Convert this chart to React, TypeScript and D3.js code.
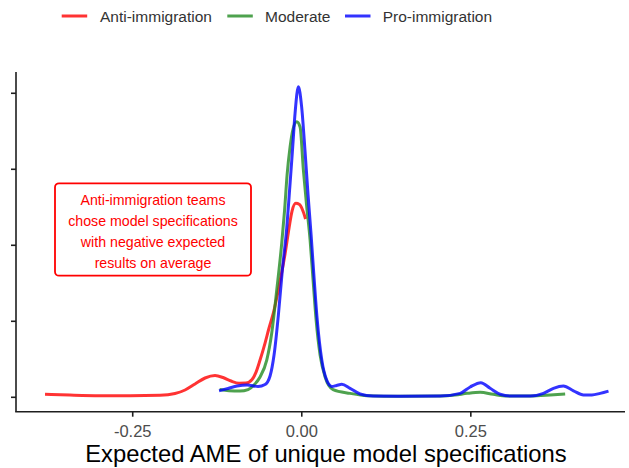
import React from "react";
import * as d3 from "d3";

type Pt = [number, number];

const seriesNames = ["Anti-immigration", "Moderate", "Pro-immigration"];
const seriesColors = ["#ff0000", "#228b22", "#0000ff"];

// Density curves: [Expected AME, density]
const antiDensity: Pt[] = [
  [-0.3797, 0.2], [-0.3428, 0.15], [-0.2984, 0.11], [-0.254, 0.105], [-0.2096, 0.13],
  [-0.1874, 0.25], [-0.1726, 0.48], [-0.1578, 0.875], [-0.143, 1.27], [-0.1283, 1.43],
  [-0.1164, 1.3], [-0.1046, 1.07], [-0.0928, 0.93], [-0.0824, 0.94], [-0.0735, 1.17],
  [-0.0676, 1.66], [-0.0617, 2.45], [-0.0543, 3.57], [-0.0484, 4.56], [-0.042, 5.55],
  [-0.0321, 7.65], [-0.0247, 9.43], [-0.0188, 11.14], [-0.0143, 12.26], [-0.0089, 12.76],
  [-0.0033, 12.68], [0.0012, 12.32], [0.0056, 11.73],
];

const moderateDensity: Pt[] = [
  [-0.1216, 0.51], [-0.1075, 0.43], [-0.0913, 0.41], [-0.0794, 0.51], [-0.0706, 0.81],
  [-0.0617, 1.34], [-0.0518, 2.45], [-0.0444, 4.23], [-0.037, 7.06], [-0.0296, 10.15],
  [-0.0254, 12.32], [-0.0217, 14.63], [-0.0173, 16.47], [-0.0129, 17.65], [-0.0074, 18.13],
  [-0.0025, 17.78], [0.0024, 14.95], [0.0071, 12.65], [0.0123, 10.35], [0.0167, 7.72],
  [0.0212, 5.09], [0.0271, 2.78], [0.0345, 1.34], [0.0463, 0.51], [0.0714, 0.26],
  [0.0966, 0.105], [0.1454, 0.066], [0.2046, 0.085], [0.2268, 0.15], [0.2445, 0.26],
  [0.2638, 0.33], [0.283, 0.2], [0.3037, 0.085], [0.3377, 0.085], [0.3673, 0.15],
  [0.3895, 0.22],
];

const proDensity: Pt[] = [
  [-0.1223, 0.43], [-0.109, 0.58], [-0.0957, 0.74], [-0.0809, 0.81], [-0.0646, 0.71],
  [-0.0543, 0.84], [-0.0469, 1.4], [-0.041, 2.78], [-0.0346, 5.41], [-0.0287, 8.38],
  [-0.0222, 11.14], [-0.018, 13.64], [-0.0139, 16.14], [-0.0099, 18.7], [-0.005, 20.43],
  [-0.0003, 19.16], [0.0049, 16.14], [0.0093, 13.31], [0.0138, 10.68], [0.0182, 7.85],
  [0.0226, 5.22], [0.0296, 2.45], [0.037, 1.11], [0.0444, 0.71], [0.0515, 0.78],
  [0.0592, 0.86], [0.0714, 0.59], [0.0862, 0.22], [0.1055, 0.085], [0.1454, 0.07],
  [0.2046, 0.085], [0.2342, 0.26], [0.249, 0.68], [0.2648, 0.96], [0.2786, 0.59],
  [0.2933, 0.2], [0.3081, 0.085], [0.3377, 0.085], [0.3574, 0.26], [0.3722, 0.59],
  [0.387, 0.74], [0.4018, 0.43], [0.4166, 0.15], [0.429, 0.15], [0.4413, 0.26],
  [0.4536, 0.41],
];

const xTicks = [-0.25, 0, 0.25];
const xTickLabels = ["-0.25", "0.00", "0.25"];
const yTicks = [0, 5, 10, 15, 20];
const xTitle = "Expected AME of unique model specifications";
const noteLines = [
  "Anti-immigration teams",
  "chose model specifications",
  "with negative expected",
  "results on average",
];

const W = 629;
const H = 468;
const FONT = "'Liberation Sans', Arial, Helvetica, sans-serif";

export default function App() {
  const x = d3.scaleLinear().domain([-0.4226, 0.478]).range([16, 625]);
  const y = d3.scaleLinear().domain([-0.947, 21.4]).range([411.7, 72]);
  const line = d3
    .line<Pt>()
    .x((d) => x(d[0]))
    .y((d) => y(d[1]))
    .curve(d3.curveMonotoneX);

  const all = [antiDensity, moderateDensity, proDensity];
  const axisColor = "#1e1e1e";
  const panelLeft = x.range()[0];
  const panelRight = x.range()[1];
  const panelBottom = y.range()[0];
  const panelTop = y.range()[1];

  const legendLineX = [61.7, 227.3, 345];
  const legendTextX = [100, 265, 382.7];

  return (
    <svg
      width={W}
      height={H}
      style={{ position: "absolute", left: 0, top: 0, background: "#fff" }}
      fontFamily={FONT}
    >
      <rect x={0} y={0} width={W} height={H} fill="#fff" />
      {/* Legend */}
      {seriesNames.map((n, i) => (
        <g key={n}>
          <line
            x1={legendLineX[i]}
            x2={legendLineX[i] + 25.5}
            y1={16}
            y2={16}
            stroke={seriesColors[i]}
            strokeOpacity={0.8}
            strokeWidth={3}
          />
          <text x={legendTextX[i]} y={21.5} fontSize={15.5} fill="#333">
            {n}
          </text>
        </g>
      ))}

      {/* Curves */}
      {all.map((d, i) => (
        <path
          key={i}
          d={line(d) || ""}
          fill="none"
          stroke={seriesColors[i]}
          strokeOpacity={0.8}
          strokeWidth={3}
          strokeLinejoin="round"
          strokeLinecap="butt"
        />
      ))}

      {/* Annotation */}
      <rect
        x={55}
        y={183.3}
        width={196}
        height={92.4}
        rx={4}
        fill="#fff"
        stroke="#ff0000"
        strokeWidth={1.8}
      />
      {noteLines.map((t, i) => (
        <text
          key={t}
          x={153}
          y={205 + i * 21.1}
          textAnchor="middle"
          fontSize={14.2}
          fill="#ff0000"
        >
          {t}
        </text>
      ))}

      {/* Axes */}
      <line x1={panelLeft} x2={panelLeft} y1={panelTop} y2={panelBottom} stroke={axisColor} strokeWidth={1.6} />
      <line x1={panelLeft - 0.8} x2={panelRight} y1={panelBottom} y2={panelBottom} stroke={axisColor} strokeWidth={1.6} />
      {yTicks.map((t) => (
        <line key={t} x1={panelLeft - 5} x2={panelLeft} y1={y(t)} y2={y(t)} stroke={axisColor} strokeWidth={1.6} />
      ))}
      {xTicks.map((t, i) => (
        <g key={t}>
          <line x1={x(t)} x2={x(t)} y1={panelBottom} y2={panelBottom + 5} stroke={axisColor} strokeWidth={1.6} />
          <text x={x(t)} y={436.5} textAnchor="middle" fontSize={16.5} fill="#4d4d4d">
            {xTickLabels[i]}
          </text>
        </g>
      ))}
      <text x={(85 + 567) / 2} y={461.5} textAnchor="middle" fontSize={23.8} fill="#000">
        {xTitle}
      </text>
    </svg>
  );
}
